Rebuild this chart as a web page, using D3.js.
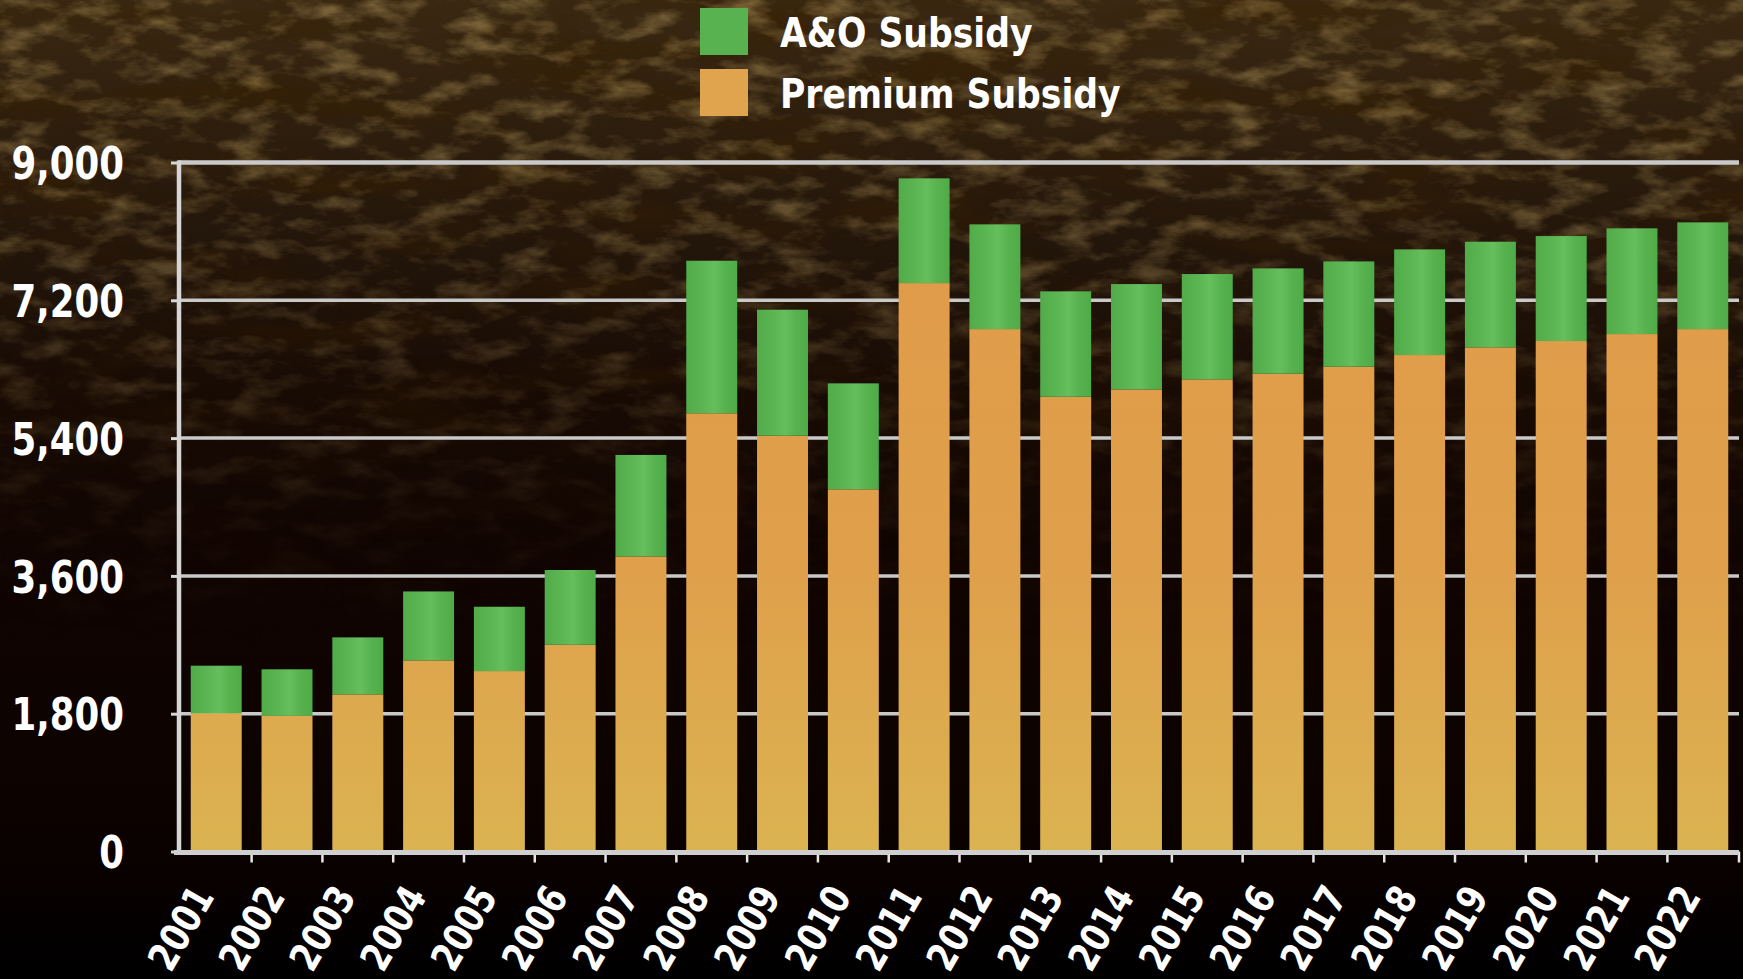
<!DOCTYPE html>
<html>
<head>
<meta charset="utf-8">
<script src="https://cdn.jsdelivr.net/npm/d3@7"></script>
<style>
  html, body { margin: 0; padding: 0; background: #000; }
  svg { display: block; }
  text { font-family: "DejaVu Sans", Verdana, sans-serif; font-weight: bold; fill: #fff; }
</style>
</head>
<body>
<svg id="chart" width="1743" height="979"></svg>
<script>
// ---- data ----
const years = ["2001","2002","2003","2004","2005","2006","2007","2008","2009","2010","2011",
               "2012","2013","2014","2015","2016","2017","2018","2019","2020","2021","2022"];
const premiumSubsidy = [1805, 1774, 2053, 2497, 2357, 2700, 3855, 5724, 5431, 4731, 7425,
                        6824, 5940, 6036, 6167, 6241, 6333, 6485, 6585, 6668, 6759, 6824];
const aoSubsidy = [622, 606, 744, 900, 840, 977, 1325, 1993, 1646, 1384, 1368,
                   1368, 1377, 1376, 1376, 1376, 1375, 1380, 1380, 1371, 1381, 1394];
const yTickValues = [0, 1800, 3600, 5400, 7200, 9000];
const seriesNames = ["Premium Subsidy", "A&O Subsidy"];
const legendOrder = ["A&O Subsidy", "Premium Subsidy"];

const W = 1743, H = 979;
const svg = d3.select("#chart");
const defs = svg.append("defs");

// ---- background ----
const bg = defs.append("linearGradient").attr("id","bgGrad").attr("x1",0).attr("y1",0).attr("x2",0).attr("y2",1);
[[0,"#3a2812"],[0.1,"#30200e"],[0.25,"#22150a"],[0.4,"#180b04"],[0.55,"#110502"],[0.85,"#0b0200"],[0.95,"#040000"],[1,"#000"]]
  .forEach(([o,c]) => bg.append("stop").attr("offset",o).attr("stop-color",c));
svg.append("rect").attr("width",W).attr("height",H).attr("fill","url(#bgGrad)");

const soil = defs.append("filter").attr("id","soil").attr("x",0).attr("y",0).attr("width",1).attr("height",1);
soil.append("feTurbulence").attr("type","fractalNoise").attr("baseFrequency","0.022 0.05")
    .attr("numOctaves",5).attr("seed",7).attr("result","n");
soil.append("feColorMatrix").attr("in","n").attr("type","matrix")
    .attr("values","0 0 0 0 0.50  0 0 0 0 0.35  0 0 0 0 0.12  2.6 0 0 0 -1.2");
const soilDark = defs.append("filter").attr("id","soilDark").attr("x",0).attr("y",0).attr("width",1).attr("height",1);
soilDark.append("feTurbulence").attr("type","fractalNoise").attr("baseFrequency","0.006 0.025")
    .attr("numOctaves",4).attr("seed",2).attr("result","n");
soilDark.append("feColorMatrix").attr("in","n").attr("type","matrix")
    .attr("values","0 0 0 0 0.04  0 0 0 0 0.015  0 0 0 0 0.0  -2.6 0 0 0 1.45");
const fade = defs.append("linearGradient").attr("id","fadeGrad").attr("x1",0).attr("y1",0).attr("x2",0).attr("y2",1);
[[0,1],[0.2,0.85],[0.38,0.45],[0.52,0.15],[0.66,0]].forEach(([o,a]) =>
  fade.append("stop").attr("offset",o).attr("stop-color","#fff").attr("stop-opacity",a));
const mask = defs.append("mask").attr("id","fadeMask");
mask.append("rect").attr("width",W).attr("height",H).attr("fill","url(#fadeGrad)");
const texture = svg.append("g").attr("mask","url(#fadeMask)");
texture.append("rect").attr("width",W).attr("height",H).attr("filter","url(#soilDark)").attr("opacity",0.55);
texture.append("rect").attr("width",W).attr("height",H).attr("filter","url(#soil)").attr("opacity",0.5);

// ---- scales ----
const plotLeft = 178, plotRight = 1739, yZero = 851.5, yTop = 162.5;
const x = d3.scaleBand().domain(years).range([plotLeft, 1741]).paddingInner(0.28).paddingOuter(0.18);
const y = d3.scaleLinear().domain([0, 9000]).range([yZero, yTop]);

// ---- gridlines ----
const grid = svg.append("g");
grid.selectAll("line").data(yTickValues.filter(v => v > 0)).join("line")
  .attr("x1", plotLeft).attr("x2", plotRight)
  .attr("y1", d => y(d)).attr("y2", d => y(d))
  .attr("stroke", "#c9c9c9").attr("stroke-width", d => d === 9000 ? 4.5 : 3.5);

// ---- bars ----
const table = years.map((yr, i) => ({year: yr, "Premium Subsidy": premiumSubsidy[i], "A&O Subsidy": aoSubsidy[i]}));
const stacked = d3.stack().keys(seriesNames)(table);

const gOr = defs.append("linearGradient").attr("id","gOrange")
  .attr("gradientUnits","userSpaceOnUse").attr("x1",0).attr("x2",0).attr("y1", yTop).attr("y2", yZero);
gOr.append("stop").attr("offset",0).attr("stop-color","#e19a49");
gOr.append("stop").attr("offset",0.6).attr("stop-color","#dfa04b");
gOr.append("stop").attr("offset",1).attr("stop-color","#dbb351");
const gGr = defs.append("linearGradient").attr("id","gGreen").attr("x1",0).attr("y1",0).attr("x2",1).attr("y2",0);
[[0,"#52ab49"],[0.35,"#5cb653"],[0.55,"#66be5c"],[0.75,"#58b34f"],[1,"#4fab47"]]
  .forEach(([o,c]) => gGr.append("stop").attr("offset",o).attr("stop-color",c));
const fills = {"Premium Subsidy": "url(#gOrange)", "A&O Subsidy": "url(#gGreen)"};
const legendFills = {"Premium Subsidy": "#e0a44f", "A&O Subsidy": "#58b24f"};

svg.append("g").selectAll("g").data(stacked).join("g")
  .attr("fill", d => fills[d.key])
  .selectAll("rect").data(d => d).join("rect")
  .attr("x", d => x(d.data.year))
  .attr("width", x.bandwidth())
  .attr("y", d => y(d[1]))
  .attr("height", d => y(d[0]) - y(d[1]));

// ---- axes ----
function condense(sel, factor) {
  sel.each(function() {
    const len = this.getComputedTextLength();
    d3.select(this).attr("textLength", len * factor).attr("lengthAdjust", "spacingAndGlyphs");
  });
}

// y axis
const yAxis = svg.append("g").attr("transform", `translate(${plotLeft + 1},0)`)
  .call(d3.axisLeft(y).tickValues(yTickValues).tickFormat(d3.format(",")).tickSize(8).tickPadding(47));
yAxis.select(".domain").attr("stroke", "#d6d6d6").attr("stroke-width", 4.5)
  .attr("d", `M0,${yTop - 2}V${yZero + 2}`);
yAxis.selectAll(".tick line").attr("stroke", "#d6d6d6").attr("stroke-width", 3);
yAxis.selectAll(".tick text").attr("font-size", 45).attr("fill", "#fff").attr("dy", "0.36em")
  .style("font-family", '"DejaVu Sans", Verdana, sans-serif').style("font-weight", "bold");
condense(yAxis.selectAll(".tick text"), 0.79);

// x axis line + boundary ticks
const step = x.step();
const gap = step * x.paddingInner();
const boundaries = years.slice(1).map(yr => x(yr) - gap / 2).concat([plotRight]);
svg.append("g").selectAll("line").data(boundaries).join("line")
  .attr("x1", d => d).attr("x2", d => d).attr("y1", yZero).attr("y2", yZero + 11)
  .attr("stroke", "#e6e6e6").attr("stroke-width", 2.5);
svg.append("line").attr("x1", plotLeft - 4).attr("x2", plotRight)
  .attr("y1", yZero + 1).attr("y2", yZero + 1)
  .attr("stroke", "#cfcfcf").attr("stroke-width", 5);

// x labels
const xl = svg.append("g").selectAll("text").data(years).join("text")
  .attr("text-anchor", "end")
  .attr("font-size", 40)
  .attr("transform", d => `translate(${x(d) + x.bandwidth() / 2 - 1},${yZero + 45}) rotate(-60)`)
  .text(d => d);
condense(xl, 0.8);

// ---- legend ----
const legend = svg.append("g");
const lg = legend.selectAll("g").data(legendOrder).join("g")
  .attr("transform", (d, i) => `translate(700,${8 + i * 61})`);
lg.append("rect").attr("width", 48).attr("height", 47).attr("fill", d => legendFills[d]);
const lt = lg.append("text").attr("x", 80).attr("y", 39).attr("font-size", 40).text(d => d);
condense(lt, 0.865);
</script>
</body>
</html>
